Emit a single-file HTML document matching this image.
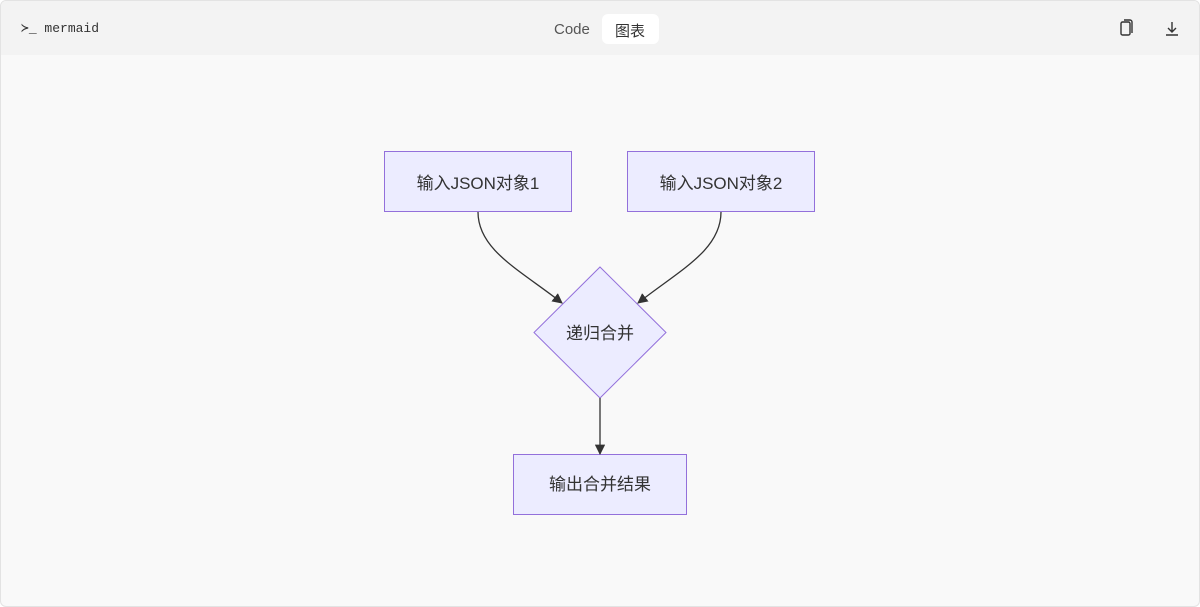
<!DOCTYPE html>
<html><head><meta charset="utf-8"><style>
body{margin:0;width:1200px;height:607px;background:#fff;overflow:hidden;font-family:"Liberation Sans","Noto Sans CJK SC",sans-serif}
.frame{position:absolute;left:0;top:0;width:1198px;height:605px;border:1px solid #e3e3e3;border-radius:6px;background:#f9f9f9;overflow:hidden}
.hdr{position:absolute;left:0;top:0;width:1198px;height:54px;background:#f3f3f3}
.t{position:absolute;font-size:14px;color:#333}
</style></head><body>
<div class="frame">
<div class="hdr">
<div class="t" style="left:20px;top:20px;font-family:'Liberation Mono',monospace;font-size:13px">≻_ mermaid</div>
<div class="t" style="left:553px;top:20px;color:#555;font-size:15px">Code</div>
<div style="position:absolute;left:601px;top:13px;width:57px;height:30px;background:#fff;border-radius:6px"></div>
<div class="t" style="left:614px;top:19px;font-size:15px">图表</div>
<svg style="position:absolute;left:1116px;top:18px" width="70" height="20" viewBox="0 0 70 20">
<rect x="4" y="3" width="9" height="13" rx="1.5" fill="none" stroke="#333" stroke-width="1.4"/>
<path d="M7 1h6a2 2 0 0 1 2 2v11" fill="none" stroke="#333" stroke-width="1.4"/>
<path d="M55 3v10M51 9l4 4 4-4M49 16h12" fill="none" stroke="#333" stroke-width="1.4"/>
</svg>
</div>
</div>
<svg style="position:absolute;left:0;top:0" width="1200" height="607">
<defs><marker id="a" viewBox="0 0 10 10" refX="9" refY="5" markerWidth="8" markerHeight="8" orient="auto"><path d="M0 0L10 5L0 10z" fill="#333"/></marker></defs>
<g fill="#ececff" stroke="#9370db" stroke-width="1">
<rect x="384.5" y="151.5" width="187" height="60"/>
<rect x="627.5" y="151.5" width="187" height="60"/>
<polygon points="600,267 666,332.5 600,398 534,332.5"/>
<rect x="513.5" y="454.5" width="173" height="60"/>
</g>
<g fill="none" stroke="#333" stroke-width="1.3">
<path d="M478 212 C478 250 520 270 562 303" marker-end="url(#a)"/>
<path d="M721 212 C721 250 680 270 638 303" marker-end="url(#a)"/>
<path d="M600 398 L600 454" marker-end="url(#a)"/>
</g>
<g font-family="Liberation Sans,Noto Sans CJK SC,sans-serif" font-size="17" fill="#333" text-anchor="middle">
<text x="478" y="189">输入JSON对象1</text>
<text x="721" y="189">输入JSON对象2</text>
<text x="600" y="339">递归合并</text>
<text x="600" y="490">输出合并结果</text>
</g>
</svg>
</body></html>
